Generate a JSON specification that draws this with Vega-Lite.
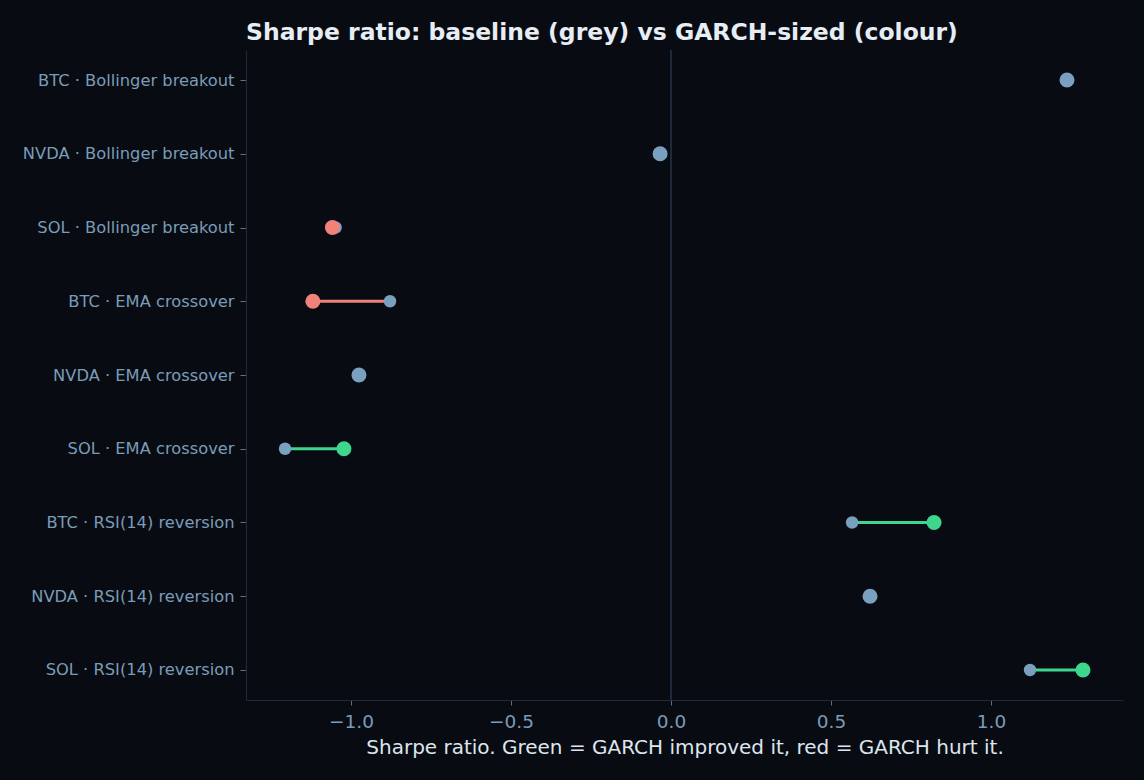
{
  "$schema": "https://vega.github.io/schema/vega-lite/v6.json",
  "width": 877,
  "height": 650,
  "autosize": "none",
  "padding": {"left": 246, "top": 50, "right": 21, "bottom": 80},
  "background": "#080b12",
  "title": {
    "text": "Sharpe ratio: baseline (grey) vs GARCH-sized (colour)",
    "anchor": "start",
    "frame": "group",
    "font": "DejaVu Sans",
    "fontSize": 23.5,
    "fontWeight": "bold",
    "color": "#e6edf5",
    "baseline": "alphabetic",
    "offset": -14
  },
  "config": {
    "view": {"stroke": null},
    "axis": {"grid": false, "domainColor": "#1f2b3b", "tickColor": "#5a6e84", "labelColor": "#7a9cb8", "labelFont": "DejaVu Sans", "titleFont": "DejaVu Sans", "labelLimit": 400},
    "axisX": {"labelFontSize": 18.5, "tickSize": 5, "labelPadding": 7, "titleFontSize": 20, "titleFontWeight": "normal", "titleColor": "#dde5ee", "titlePadding": 7},
    "axisY": {"labelFontSize": 16.3, "tickSize": 6, "labelPadding": 6}
  },
  "data": {
    "values": [
      {"label": "BTC · Bollinger breakout", "base": 1.2375, "garch": 1.2375, "status": "same"},
      {"label": "NVDA · Bollinger breakout", "base": -0.034, "garch": -0.034, "status": "same"},
      {"label": "SOL · Bollinger breakout", "base": -1.048, "garch": -1.058, "status": "hurt"},
      {"label": "BTC · EMA crossover", "base": -0.878, "garch": -1.119, "status": "hurt"},
      {"label": "NVDA · EMA crossover", "base": -0.975, "garch": -0.975, "status": "same"},
      {"label": "SOL · EMA crossover", "base": -1.206, "garch": -1.022, "status": "improved"},
      {"label": "BTC · RSI(14) reversion", "base": 0.566, "garch": 0.822, "status": "improved"},
      {"label": "NVDA · RSI(14) reversion", "base": 0.622, "garch": 0.622, "status": "same"},
      {"label": "SOL · RSI(14) reversion", "base": 1.122, "garch": 1.2875, "status": "improved"}
    ]
  },
  "encoding": {
    "y": {
      "field": "label", "type": "nominal", "sort": null,
      "scale": {"type": "point", "padding": 0.407},
      "axis": {"title": null}
    }
  },
  "layer": [
    {
      "mark": {"type": "rule", "color": "#1f2b3b", "strokeWidth": 1.5},
      "encoding": {"x": {"datum": 0, "type": "quantitative"}, "y": null}
    },
    {
      "mark": {"type": "rule", "strokeWidth": 3},
      "encoding": {
        "x": {
          "field": "base", "type": "quantitative",
          "scale": {"domain": [-1.328, 1.4125], "nice": false, "zero": false},
          "axis": {
            "title": "Sharpe ratio. Green = GARCH improved it, red = GARCH hurt it.",
            "values": [-1, -0.5, 0, 0.5, 1],
            "format": ".1f"
          }
        },
        "x2": {"field": "garch"},
        "color": {
          "field": "status", "type": "nominal",
          "scale": {"domain": ["improved", "hurt", "same"], "range": ["#3dd68c", "#f0827a", "#7aa0bf"]},
          "legend": null
        }
      }
    },
    {
      "mark": {"type": "circle", "size": 155, "opacity": 1, "color": "#7aa0bf"},
      "encoding": {"x": {"field": "base", "type": "quantitative"}}
    },
    {
      "mark": {"type": "circle", "size": 225, "opacity": 1},
      "encoding": {
        "x": {"field": "garch", "type": "quantitative"},
        "color": {"field": "status", "type": "nominal", "legend": null}
      }
    }
  ]
}
